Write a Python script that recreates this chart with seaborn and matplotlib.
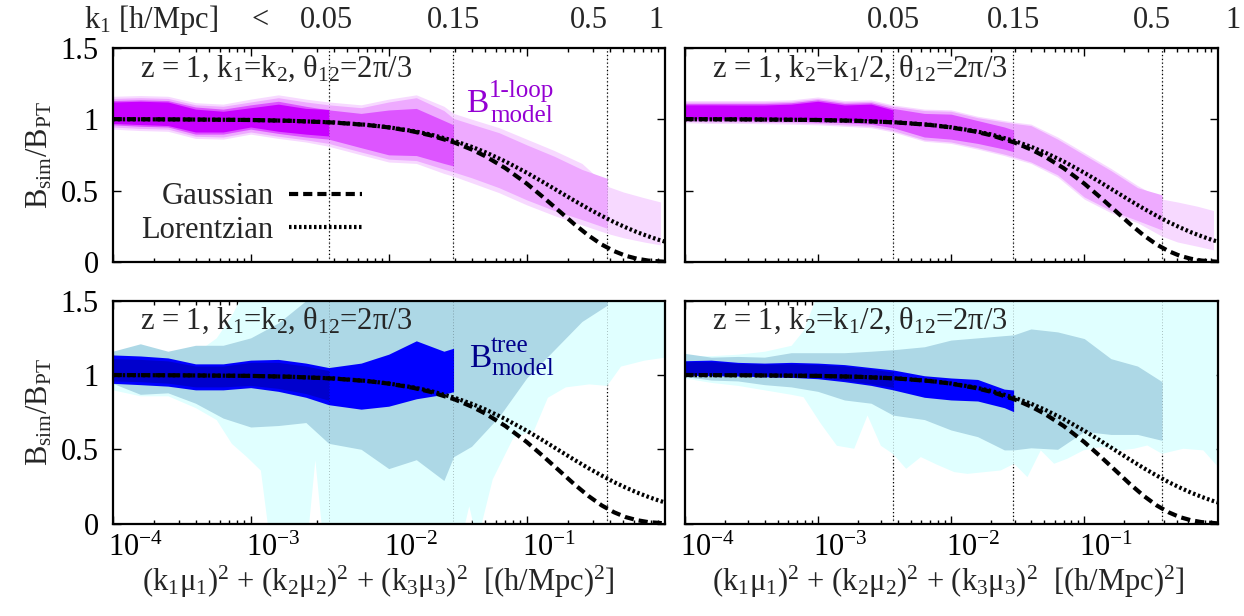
import numpy as np
import pandas as pd
import matplotlib
matplotlib.use("Agg")
import matplotlib.pyplot as plt
import seaborn as sns
from matplotlib.ticker import FixedLocator, LogLocator, NullFormatter, FixedFormatter
from matplotlib.lines import Line2D
from matplotlib.transforms import ScaledTranslation

# ---------------------------------------------------------------- data
# model damping curves
model_x = [1e-4, 3e-4, 1e-3, 2e-3, 4e-3, 7e-3, 0.01, 0.015, 0.02, 0.03, 0.04, 0.05,
           0.07, 0.1, 0.13, 0.17, 0.22, 0.28, 0.35, 0.43, 0.52, 0.63, 0.76, 0.9, 1.0]
gaussian = [1.0, 0.998, 0.994, 0.988, 0.976, 0.959, 0.942, 0.914, 0.887, 0.836, 0.787, 0.741,
            0.657, 0.549, 0.458, 0.361, 0.267, 0.186, 0.122, 0.076, 0.044, 0.023, 0.010, 0.005, 0.002]
lorentzian = [0.999, 0.998, 0.994, 0.988, 0.977, 0.96, 0.943, 0.917, 0.893, 0.847, 0.806, 0.769,
              0.704, 0.625, 0.562, 0.495, 0.431, 0.373, 0.323, 0.279, 0.243, 0.209, 0.180, 0.156, 0.143]

# k1 bin boundaries (0.05, 0.15, 0.5 h/Mpc) on the x axis
k_bounds = [0.00367, 0.0294, 0.38]
k_labels = ["0.05", "0.15", "0.5", "1"]

# log10(x) grids of the shaded bands (k1 < 0.05, < 0.15, < 0.5, < 1)
x4_exp = [-4.0, -3.8, -3.6, -3.4, -3.2, -3.0, -2.8, -2.6, -2.435]
x3_exp = x4_exp + [-2.2, -2.0, -1.8, -1.6, -1.53]
x2_exp = x3_exp + [-1.4, -1.2, -1.0, -0.8, -0.6, -0.416]
x1_exp = x2_exp + [-0.3, -0.15, -0.03]

# top-left: k1=k2, 1-loop
tl_hi4 = [1.12, 1.125, 1.12, 1.07, 1.055, 1.08, 1.105, 1.075, 1.068]
tl_lo4 = [0.97, 0.962, 0.955, 0.91, 0.91, 0.945, 0.915, 0.895, 0.882]
tl_hi3 = [1.13, 1.135, 1.13, 1.085, 1.07, 1.1, 1.125, 1.09, 1.065, 1.04, 1.064, 1.075, 0.99, 0.96]
tl_lo3 = [0.96, 0.95, 0.945, 0.895, 0.895, 0.93, 0.9, 0.875, 0.86, 0.8, 0.75, 0.745, 0.69, 0.672]
tl_hi2 = [1.145, 1.15, 1.145, 1.1, 1.09, 1.12, 1.15, 1.12, 1.1, 1.08, 1.12, 1.15, 1.06, 1.005,
          0.965, 0.905, 0.82, 0.74, 0.648, 0.585]
tl_lo2 = [0.945, 0.935, 0.93, 0.88, 0.875, 0.91, 0.88, 0.855, 0.83, 0.77, 0.72, 0.71, 0.65, 0.63,
          0.59, 0.52, 0.435, 0.36, 0.297, 0.236]
tl_hi1 = [1.16, 1.165, 1.16, 1.115, 1.105, 1.14, 1.17, 1.14, 1.12, 1.1, 1.14, 1.17, 1.09, 1.04,
          1.0, 0.94, 0.86, 0.78, 0.69, 0.53, 0.49, 0.45, 0.42]
tl_lo1 = [0.93, 0.92, 0.915, 0.865, 0.86, 0.895, 0.865, 0.84, 0.81, 0.75, 0.70, 0.69, 0.62, 0.6,
          0.555, 0.485, 0.4, 0.325, 0.26, 0.2, 0.17, 0.14, 0.12]

# top-right: k2=k1/2, 1-loop
tr_hi4 = [1.10, 1.10, 1.099, 1.099, 1.105, 1.125, 1.099, 1.105, 1.064]
tr_lo4 = [1.005, 1.0, 1.0, 0.998, 0.998, 0.995, 0.992, 0.99, 0.985]
tr_hi3 = [1.11, 1.11, 1.11, 1.11, 1.115, 1.135, 1.11, 1.115, 1.075, 1.04, 1.035, 0.99, 0.945, 0.924]
tr_lo3 = [0.995, 0.99, 0.99, 0.988, 0.985, 0.98, 0.975, 0.965, 0.94, 0.875, 0.86, 0.83, 0.79, 0.772]
tr_hi2 = [1.12, 1.12, 1.12, 1.12, 1.125, 1.145, 1.12, 1.125, 1.09, 1.06, 1.055, 1.01, 0.98, 0.97,
          0.955, 0.86, 0.75, 0.64, 0.52, 0.47]
tr_lo2 = [0.985, 0.98, 0.98, 0.978, 0.975, 0.97, 0.96, 0.95, 0.92, 0.855, 0.84, 0.8, 0.755, 0.737,
          0.70, 0.61, 0.455, 0.36, 0.29, 0.224]
tr_hi1 = [1.13, 1.13, 1.13, 1.13, 1.135, 1.155, 1.13, 1.135, 1.1, 1.07, 1.065, 1.02, 0.99, 0.98,
          0.965, 0.875, 0.765, 0.655, 0.535, 0.44, 0.42, 0.39, 0.36]
tr_lo1 = [0.975, 0.97, 0.97, 0.968, 0.965, 0.96, 0.95, 0.94, 0.91, 0.845, 0.83, 0.79, 0.745, 0.725,
          0.69, 0.595, 0.44, 0.345, 0.275, 0.18, 0.14, 0.11, 0.085]

# bottom-left: k1=k2, tree
bl_hi4 = [1.11, 1.105, 1.095, 1.06, 1.06, 1.085, 1.085, 1.06, 1.03]
bl_lo4 = [0.96, 0.955, 0.945, 0.92, 0.92, 0.93, 0.91, 0.875, 0.83]
bl_hi3 = [1.135, 1.128, 1.115, 1.075, 1.075, 1.1, 1.105, 1.08, 1.05, 1.08, 1.14, 1.23, 1.16, 1.18]
bl_lo3 = [0.944, 0.935, 0.925, 0.9, 0.9, 0.915, 0.89, 0.85, 0.8, 0.77, 0.79, 0.84, 0.87, 0.888]
bl_hi2 = [1.16, 1.21, 1.16, 1.2, 1.2, 1.25, 1.35, 1.5, 1.6, 1.6, 1.6, 1.6, 1.6, 1.6,
          1.6, 1.6, 1.6, 1.6, 1.6, 1.6]
bl_lo2 = [0.944, 0.87, 0.88, 0.81, 0.71, 0.65, 0.66, 0.68, 0.54, 0.5, 0.37, 0.43, 0.29, 0.45,
          0.52, 0.72, 0.98, 1.17, 1.36, 1.47]
bl_x1_exp = [-4.0, -3.8, -3.6, -3.4, -3.25, -3.14, -3.03, -2.93, -2.88, -2.58, -2.535, -2.49,
             -1.45, -1.42, -1.39, -1.33, -1.25, -1.1, -0.95, -0.85, -0.72, -0.55, -0.42, -0.32,
             -0.15, 0.0]
bl_hi1 = [1.12, 1.15, 1.15, 1.15, 1.25, 1.4, 1.6, 1.6, 1.6, 1.6, 1.6, 1.6, 1.6, 1.6, 1.6, 1.6,
          1.6, 1.6, 1.6, 1.6, 1.6, 1.6, 1.6, 1.6, 1.6, 1.6]
bl_lo1 = [0.9, 0.86, 0.86, 0.78, 0.7, 0.54, 0.45, 0.36, 0.0, 0.0, 0.43, 0.0, 0.0, 0.12, 0.0, 0.0,
          0.3, 0.58, 0.63, 0.85, 0.92, 0.94, 0.93, 1.06, 1.1, 1.12]

# bottom-right: k2=k1/2, tree
br_hi4 = [1.09, 1.09, 1.078, 1.072, 1.075, 1.07, 1.06, 1.04, 1.02]
br_lo4 = [1.01, 1.005, 1.0, 0.995, 0.99, 0.985, 0.965, 0.94, 0.917]
br_hi3 = [1.096, 1.1, 1.085, 1.08, 1.085, 1.08, 1.07, 1.05, 1.034, 0.995, 0.98, 0.97, 0.905, 0.899]
br_lo3 = [0.999, 0.995, 0.993, 0.988, 0.984, 0.975, 0.955, 0.93, 0.9, 0.85, 0.832, 0.825, 0.78, 0.753]
br_hi2 = [1.146, 1.12, 1.125, 1.12, 1.15, 1.15, 1.15, 1.16, 1.17, 1.19, 1.235, 1.25, 1.265, 1.27,
          1.31, 1.29, 1.245, 1.11, 1.06, 0.955]
br_lo2 = [0.99, 0.966, 0.96, 0.935, 0.92, 0.89, 0.832, 0.81, 0.73, 0.7, 0.63, 0.585, 0.496, 0.496,
          0.51, 0.5, 0.62, 0.6, 0.6, 0.56]
br_x1_exp = [-4.0, -3.8, -3.6, -3.4, -3.2, -3.11, -2.98, -2.86, -2.73, -2.63, -2.53, -2.44, -2.34,
             -2.23, -2.11, -1.98, -1.88, -1.63, -1.53, -1.43, -1.33, -1.23, -1.13, -1.01, -0.88,
             -0.73, -0.63, -0.53, -0.42, -0.26, -0.11, -0.01]
br_hi1 = [1.13, 1.13, 1.14, 1.16, 1.2, 1.3, 1.6, 1.6, 1.6, 1.6, 1.6, 1.6, 1.6, 1.6, 1.6, 1.6,
          1.6, 1.6, 1.6, 1.6, 1.6, 1.6, 1.6, 1.6, 1.6, 1.6, 1.6, 1.6, 1.6, 1.6, 1.6, 1.6]
br_lo1 = [0.98, 0.95, 0.93, 0.9, 0.87, 0.854, 0.675, 0.527, 0.507, 0.731, 0.527, 0.473, 0.372,
          0.451, 0.40, 0.35, 0.338, 0.361, 0.406, 0.316, 0.496, 0.406, 0.44, 0.496, 0.518,
          0.496, 0.507, 0.529, 0.473, 0.507, 0.496, 0.395]

xtick_vals = [1e-4, 1e-3, 1e-2, 1e-1]
xtick_labels = ["10$^{\\mathrm{-4}}$", "10$^{\\mathrm{-3}}$", "10$^{\\mathrm{-2}}$", "10$^{\\mathrm{-1}}$"]
ytick_vals = [0, 0.5, 1, 1.5]
ytick_labels = ["0", "0.5", "1", "1.5"]

# ---------------------------------------------------------------- style
sns.set_theme(style="ticks")
plt.rcParams["font.family"] = ["Liberation Serif", "DejaVu Serif"]
plt.rcParams["mathtext.fontset"] = "custom"
plt.rcParams["mathtext.rm"] = "Liberation Serif"
plt.rcParams["mathtext.it"] = "Liberation Serif:italic"
plt.rcParams["mathtext.default"] = "regular"
plt.rcParams["axes.linewidth"] = 1.5
FS = 22

top_colors = ["#f7d9ff", "#eeaaff", "#dd55ff", "#c800ff"]
bot_colors = ["#e0ffff", "#add8e6", "#0000ff", "#0000cd"]

W, H = 1244, 616
fig = plt.figure(figsize=(W / 100, H / 100), dpi=100)


def fx(px):
    return px / W


def fy(py):
    return 1 - py / H


ax_tl = fig.add_axes([fx(112.7), fy(262.0), 552 / W, 214.3 / H])
ax_tr = fig.add_axes([fx(684.5), fy(262.0), 533 / W, 214.3 / H])
ax_bl = fig.add_axes([fx(112.7), fy(523.6), 552 / W, 222.9 / H])
ax_br = fig.add_axes([fx(684.5), fy(523.6), 533 / W, 222.9 / H])

panels = [
    (ax_tl, [(x1_exp, tl_lo1, tl_hi1), (x2_exp, tl_lo2, tl_hi2), (x3_exp, tl_lo3, tl_hi3), (x4_exp, tl_lo4, tl_hi4)], top_colors),
    (ax_tr, [(x1_exp, tr_lo1, tr_hi1), (x2_exp, tr_lo2, tr_hi2), (x3_exp, tr_lo3, tr_hi3), (x4_exp, tr_lo4, tr_hi4)], top_colors),
    (ax_bl, [(bl_x1_exp, bl_lo1, bl_hi1), (x2_exp, bl_lo2, bl_hi2), (x3_exp, bl_lo3, bl_hi3), (x4_exp, bl_lo4, bl_hi4)], bot_colors),
    (ax_br, [(br_x1_exp, br_lo1, br_hi1), (x2_exp, br_lo2, br_hi2), (x3_exp, br_lo3, br_hi3), (x4_exp, br_lo4, br_hi4)], bot_colors),
]

curves = pd.DataFrame({"x": model_x, "Gaussian": gaussian, "Lorentzian": lorentzian})
gauss_ls = (0, (2.2, 1.2))
lor_ls = (0, (0.6, 0.6))
LW = 3.0

for i, (ax, layers, cols) in enumerate(panels):
    ax.set_facecolor("white")
    for (xe, lo, hi), c in zip(layers, cols):
        ax.fill_between(np.power(10.0, xe), lo, hi, color=c, lw=0, zorder=2)
    for xb in k_bounds:
        ax.axvline(xb, color="black", lw=0.9, ls=(0, (1, 2)), zorder=1.5)
        ax.axvline(xb, color="black", lw=0.7, ls=(0, (1, 2)), alpha=0.25, zorder=3)
    sns.lineplot(data=curves, x="x", y="Lorentzian", ax=ax, color="black", lw=LW,
                 linestyle=lor_ls, zorder=4, legend=False)
    sns.lineplot(data=curves, x="x", y="Gaussian", ax=ax, color="black", lw=LW,
                 linestyle=gauss_ls, zorder=5, legend=False)
    ax.set_xscale("log")
    ax.set_xlim(1e-4, 1.0)
    ax.set_ylim(0, 1.5)
    ax.set_xlabel("")
    ax.set_ylabel("")
    ax.xaxis.set_major_locator(FixedLocator(xtick_vals))
    ax.xaxis.set_minor_locator(LogLocator(base=10, subs=np.arange(2, 10)))
    ax.xaxis.set_minor_formatter(NullFormatter())
    ax.yaxis.set_major_locator(FixedLocator(ytick_vals))
    ax.tick_params(which="both", direction="in", top=True, right=True, width=1.0,
                   labelsize=FS, colors="black")
    ax.tick_params(which="major", length=6)
    ax.tick_params(which="minor", length=3)
    if i >= 2:
        ax.xaxis.set_major_formatter(FixedFormatter(xtick_labels))
        ax.tick_params(axis="x", pad=7)
    else:
        ax.xaxis.set_major_formatter(NullFormatter())
    if i % 2 == 0:
        ax.yaxis.set_major_formatter(FixedFormatter(ytick_labels))
        ax.tick_params(axis="y", pad=10)
    else:
        ax.yaxis.set_major_formatter(NullFormatter())
    for s in ax.spines.values():
        s.set_linewidth(1.6)
        s.set_color("black")
        s.set_zorder(6)

# x tick labels start just at the tick (as in the reference), not centred on it
shift = ScaledTranslation(-5 / 100, 0, fig.dpi_scale_trans)
for ax in (ax_bl, ax_br):
    for lab in ax.get_xticklabels():
        lab.set_horizontalalignment("left")
        lab.set_transform(lab.get_transform() + shift)

# annotations inside panels
ann1 = "z = 1, k$_1$=k$_2$, \u03b8$_{12}$=2\u03c0/3"
ann2 = "z = 1, k$_2$=k$_1$/2, \u03b8$_{12}$=2\u03c0/3"
fig.text(fx(140), fy(77), ann1, fontsize=FS, va="baseline", ha="left", zorder=10)
fig.text(fx(712), fy(77), ann2, fontsize=FS, va="baseline", ha="left", zorder=10)
fig.text(fx(140), fy(329), ann1, fontsize=FS, va="baseline", ha="left", zorder=10)
fig.text(fx(712), fy(329), ann2, fontsize=FS, va="baseline", ha="left", zorder=10)

# model labels
fig.text(fx(466), fy(112), "B", fontsize=FS + 2, color="#9400d3", va="baseline")
fig.text(fx(489), fy(97), "1-loop", fontsize=FS - 4, color="#9400d3", va="baseline")
fig.text(fx(490), fy(122), "model", fontsize=FS - 4, color="#9400d3", va="baseline")
fig.text(fx(469), fy(367), "B", fontsize=FS + 2, color="#00008b", va="baseline")
fig.text(fx(491), fy(352), "tree", fontsize=FS - 4, color="#00008b", va="baseline")
fig.text(fx(491), fy(375), "model", fontsize=FS - 4, color="#00008b", va="baseline")

# legend (top-left)
handles = [Line2D([], [], color="black", lw=LW, ls=gauss_ls),
           Line2D([], [], color="black", lw=LW, ls=lor_ls)]
ax_tl.legend(handles, ["Gaussian", "Lorentzian"], loc="center right",
             bbox_to_anchor=((362 - 112.7) / 552, (262 - 213.5) / 214.3),
             markerfirst=False, frameon=False, fontsize=FS, handlelength=2.4,
             handletextpad=0.5, labelspacing=0.15, borderpad=0, borderaxespad=0)

# axis labels
ylab = "B$_{\\mathrm{sim}}$/B$_{\\mathrm{PT}}$"
fig.text(fx(40), fy(155), ylab, fontsize=FS, rotation=90, ha="center", va="center")
fig.text(fx(40), fy(412), ylab, fontsize=FS, rotation=90, ha="center", va="center")
xlab = "(k$_1$\u03bc$_1$)$^2$ + (k$_2$\u03bc$_2$)$^2$ + (k$_3$\u03bc$_3$)$^2$  [(h/Mpc)$^2$]"
fig.text(fx(378), fy(582), xlab, fontsize=FS, ha="center", va="center")
fig.text(fx(948), fy(582), xlab, fontsize=FS, ha="center", va="center")

# k1 scale along the top
fig.text(fx(84), fy(20), "k$_1$ [h/Mpc]", fontsize=FS, ha="left", va="center")
fig.text(fx(260), fy(20), "<", fontsize=FS, ha="center", va="center")
for px, lab in zip([326, 454, 589, 656], k_labels):
    fig.text(fx(px), fy(20), lab, fontsize=FS, ha="center", va="center")
for px, lab in zip([893, 1014, 1152, 1233], k_labels):
    fig.text(fx(px), fy(20), lab, fontsize=FS, ha="center", va="center")

fig.savefig("out.png", dpi=100)
